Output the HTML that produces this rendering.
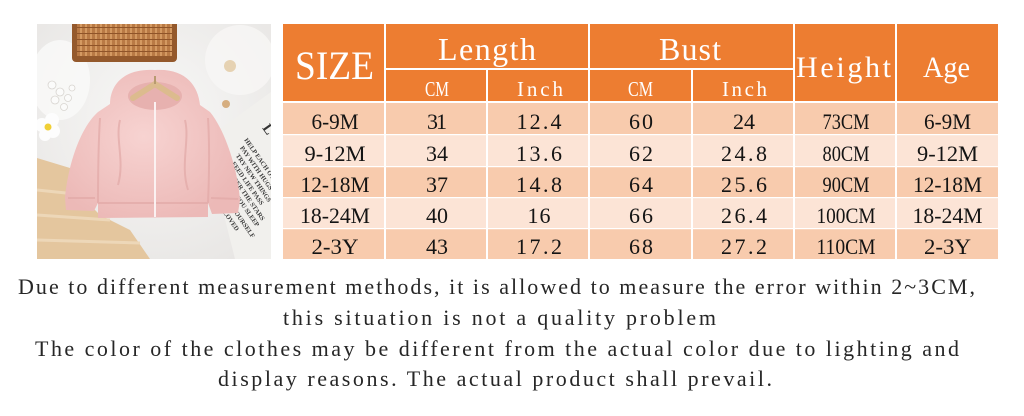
<!DOCTYPE html>
<html><head><meta charset="utf-8"><style>
html,body{margin:0;padding:0;background:#fff;}
svg{display:block;}
.d{font-family:"Liberation Serif",serif;font-size:22px;fill:#141414;}
.h{font-family:"Liberation Serif",serif;fill:#fff;}
.b{font-family:"Liberation Serif",serif;font-size:22px;fill:#262626;}
.p{font-family:"Liberation Serif",serif;font-size:6.5px;font-weight:bold;fill:#3a3a3a;}
</style></head><body>
<svg width="1024" height="416" viewBox="0 0 1024 416" xmlns="http://www.w3.org/2000/svg">
<rect width="1024" height="416" fill="#fff"/>
<defs>
<clipPath id="ph"><rect x="37" y="24" width="234" height="235"/></clipPath>
<clipPath id="pp"><polygon points="205,140 271,92 271,259 235,259"/></clipPath>
<radialGradient id="fur" cx="0.5" cy="0.4" r="0.7">
<stop offset="0" stop-color="#f8f8f7"/><stop offset="1" stop-color="#e8e6e4"/></radialGradient>
<radialGradient id="pink" cx="0.45" cy="0.45" r="0.6">
<stop offset="0" stop-color="#f7d3d1"/><stop offset="1" stop-color="#ecb9b7"/></radialGradient>
<pattern id="weave" width="5" height="6" patternUnits="userSpaceOnUse">
<rect width="5" height="6" fill="#b97a45"/><rect x="0" y="0" width="2" height="6" fill="#d49a62"/><rect x="0" y="3" width="5" height="1" fill="#8f5429"/></pattern>
</defs>

<!-- photo -->
<g clip-path="url(#ph)">
<rect x="37" y="24" width="234" height="235" fill="url(#fur)"/>
<ellipse cx="60" cy="80" rx="30" ry="40" fill="#fafaf9" opacity="0.8"/>
<ellipse cx="240" cy="60" rx="35" ry="35" fill="#f7f6f5" opacity="0.8"/>
<!-- wood floor -->
<polygon points="37,158 70,168 85,200 100,215 130,230 150,259 37,259" fill="#e4c69e"/>
<path d="M37,190 L85,195 M37,215 L110,220 M37,240 L140,243" stroke="#edd7b8" stroke-width="3" fill="none"/>
<!-- basket -->
<rect x="72" y="20" width="105" height="42" rx="4" fill="#94592c"/>
<rect x="77" y="20" width="95" height="36" fill="url(#weave)"/>
<!-- decorations -->
<g fill="#fbfbfa" stroke="#d8d5d0" stroke-width="0.8">
<circle cx="52" cy="85" r="4"/><circle cx="60" cy="92" r="4"/><circle cx="68" cy="98" r="3.5"/><circle cx="55" cy="100" r="4"/><circle cx="64" cy="107" r="3.5"/><circle cx="72" cy="88" r="3"/>
</g>
<g fill="#fdfdfd"><circle cx="42" cy="125" r="7"/><circle cx="52" cy="120" r="7"/><circle cx="53" cy="131" r="7"/><circle cx="45" cy="135" r="6"/></g>
<circle cx="48" cy="127" r="3.5" fill="#f0cf35"/>
<circle cx="230" cy="66" r="6" fill="#e6d2b2"/>
<circle cx="226" cy="104" r="4" fill="#d6ae80"/>
<!-- paper -->
<polygon points="205,140 271,92 271,259 235,259" fill="#f1f0ed"/>
<g clip-path="url(#pp)">
<g transform="translate(244,140) rotate(55)">
<text class="p" x="0" y="0">HELP EACH OTHER</text>
<text class="p" x="4" y="8">PAY WITH HUGS</text>
<text class="p" x="8" y="16">TRY NEW THINGS</text>
<text class="p" x="12" y="24">FEED LIFE PASS</text>
<text class="p" x="16" y="32">UNDER THE STARS</text>
<text class="p" x="20" y="40">SHINE YOU SLEEP</text>
<text class="p" x="24" y="50">BOY OF YOURSELF</text>
<text class="p" x="28" y="59">I ARE LOVED</text>
</g>
<text x="262" y="128" font-family="Liberation Serif,serif" font-weight="bold" font-size="14" fill="#333" transform="rotate(55 262 128)">L</text>
</g>
<!-- jacket -->
<path d="M155,70 C185,68 198,85 200,105 L210,112 C225,130 238,170 240,200 L238,213 L212,214 L208,203 L208,217 L98,218 L98,203 L94,211 L66,210 L65,198 C68,165 80,128 98,112 L110,104 C110,84 125,68 155,70 Z" fill="url(#pink)"/>
<ellipse cx="155" cy="96" rx="27" ry="14" fill="#e7b1af"/>
<path d="M133,98 L155,84 L177,98" stroke="#dcbb8e" stroke-width="6" fill="none" stroke-linecap="round"/>
<path d="M155,84 L155,76" stroke="#b89a70" stroke-width="2"/>
<g stroke="#e2a9a7" stroke-width="2" fill="none" opacity="0.7">
<path d="M100,118 C98,150 98,180 98,203"/>
<path d="M208,118 C210,150 209,180 208,203"/>
<path d="M98,203 L208,203"/>
<path d="M68,198 L95,198"/><path d="M211,198 L238,199"/>
<path d="M120,120 C115,140 125,160 118,185"/><path d="M185,120 C190,140 180,165 188,190"/>
</g>
<path d="M155,102 L155,217" stroke="#fbf1f1" stroke-width="2"/>
</g>

<!-- table -->
<rect x="283" y="24" width="715" height="77" fill="#ED7D31"/>
<rect x="283" y="103" width="715" height="31.5" fill="#F8CBAD"/>
<rect x="283" y="134.5" width="715" height="32" fill="#FCE4D6"/>
<rect x="283" y="166.5" width="715" height="31" fill="#F8CBAD"/>
<rect x="283" y="197.5" width="715" height="31" fill="#FCE4D6"/>
<rect x="283" y="228.5" width="715" height="30.5" fill="#F8CBAD"/>
<g fill="#fff">
<rect x="283" y="134" width="715" height="1.2"/>
<rect x="283" y="166" width="715" height="1.2"/>
<rect x="283" y="197" width="715" height="1.2"/>
<rect x="283" y="228" width="715" height="1.2"/>
<rect x="384" y="24" width="2" height="235"/>
<rect x="588" y="24" width="2" height="235"/>
<rect x="793" y="24" width="2" height="235"/>
<rect x="895" y="24" width="2" height="235"/>
<rect x="486" y="69" width="2" height="190"/>
<rect x="691" y="69" width="2" height="190"/>
<rect x="385" y="68" width="409" height="2"/>
</g>

<!-- header text -->
<text class="h" x="295" y="79" font-size="40" textLength="79" lengthAdjust="spacingAndGlyphs">SIZE</text>
<text class="h" x="438" y="60" font-size="32" textLength="98" lengthAdjust="spacing">Length</text>
<text class="h" x="659" y="60" font-size="32" textLength="62" lengthAdjust="spacing">Bust</text>
<text class="h" x="796" y="77" font-size="30" textLength="95" lengthAdjust="spacing">Height</text>
<text class="h" x="923" y="77" font-size="30" textLength="47" lengthAdjust="spacingAndGlyphs">Age</text>
<text class="h" x="425" y="96" font-size="21" textLength="24" lengthAdjust="spacingAndGlyphs">CM</text>
<text class="h" x="517" y="96" font-size="21" textLength="46" lengthAdjust="spacing">Inch</text>
<text class="h" x="628" y="96" font-size="21" textLength="25" lengthAdjust="spacingAndGlyphs">CM</text>
<text class="h" x="722" y="96" font-size="21" textLength="45" lengthAdjust="spacing">Inch</text>

<!-- data -->
<g class="d">
<text class="d" x="311.5" y="129" textLength="47" lengthAdjust="spacingAndGlyphs">6-9M</text>
<text class="d" x="427" y="129" textLength="20" lengthAdjust="spacing">31</text>
<text class="d" x="516.5" y="129" textLength="45" lengthAdjust="spacing">12.4</text>
<text class="d" x="629" y="129" textLength="24" lengthAdjust="spacing">60</text>
<text class="d" x="733" y="129" textLength="22" lengthAdjust="spacing">24</text>
<text class="d" x="822.5" y="129" textLength="47" lengthAdjust="spacingAndGlyphs">73CM</text>
<text class="d" x="924" y="129" textLength="47" lengthAdjust="spacingAndGlyphs">6-9M</text>

<text class="d" x="304.5" y="161" textLength="61" lengthAdjust="spacingAndGlyphs">9-12M</text>
<text class="d" x="426" y="161" textLength="22" lengthAdjust="spacing">34</text>
<text class="d" x="516" y="161" textLength="46" lengthAdjust="spacing">13.6</text>
<text class="d" x="629" y="161" textLength="24" lengthAdjust="spacing">62</text>
<text class="d" x="721" y="161" textLength="46" lengthAdjust="spacing">24.8</text>
<text class="d" x="822.5" y="161" textLength="47" lengthAdjust="spacingAndGlyphs">80CM</text>
<text class="d" x="917" y="161" textLength="61" lengthAdjust="spacingAndGlyphs">9-12M</text>

<text class="d" x="300.5" y="192" textLength="69" lengthAdjust="spacingAndGlyphs">12-18M</text>
<text class="d" x="426" y="192" textLength="22" lengthAdjust="spacing">37</text>
<text class="d" x="516" y="192" textLength="46" lengthAdjust="spacing">14.8</text>
<text class="d" x="629" y="192" textLength="24" lengthAdjust="spacing">64</text>
<text class="d" x="721" y="192" textLength="46" lengthAdjust="spacing">25.6</text>
<text class="d" x="822.5" y="192" textLength="47" lengthAdjust="spacingAndGlyphs">90CM</text>
<text class="d" x="913" y="192" textLength="69" lengthAdjust="spacingAndGlyphs">12-18M</text>

<text class="d" x="300" y="223" textLength="70" lengthAdjust="spacingAndGlyphs">18-24M</text>
<text class="d" x="426" y="223" textLength="22" lengthAdjust="spacing">40</text>
<text class="d" x="527.5" y="223" textLength="23" lengthAdjust="spacing">16</text>
<text class="d" x="629" y="223" textLength="24" lengthAdjust="spacing">66</text>
<text class="d" x="721" y="223" textLength="46" lengthAdjust="spacing">26.4</text>
<text class="d" x="816.5" y="223" textLength="59" lengthAdjust="spacingAndGlyphs">100CM</text>
<text class="d" x="912.5" y="223" textLength="70" lengthAdjust="spacingAndGlyphs">18-24M</text>

<text class="d" x="311.5" y="254" textLength="47" lengthAdjust="spacingAndGlyphs">2-3Y</text>
<text class="d" x="426" y="254" textLength="22" lengthAdjust="spacing">43</text>
<text class="d" x="516" y="254" textLength="46" lengthAdjust="spacing">17.2</text>
<text class="d" x="629" y="254" textLength="24" lengthAdjust="spacing">68</text>
<text class="d" x="721" y="254" textLength="46" lengthAdjust="spacing">27.2</text>
<text class="d" x="816.5" y="254" textLength="59" lengthAdjust="spacingAndGlyphs">110CM</text>
<text class="d" x="924" y="254" textLength="47" lengthAdjust="spacingAndGlyphs">2-3Y</text>
</g>

<!-- notes -->
<text class="b" x="18" y="294" textLength="957" lengthAdjust="spacing">Due to different measurement methods, it is allowed to measure the error within 2~3CM,</text>
<text class="b" x="283" y="325" textLength="433" lengthAdjust="spacing">this situation is not a quality problem</text>
<text class="b" x="35" y="356" textLength="924" lengthAdjust="spacing">The color of the clothes may be different from the actual color due to lighting and</text>
<text class="b" x="218" y="386" textLength="554" lengthAdjust="spacing">display reasons. The actual product shall prevail.</text>
</svg>
</body></html>
